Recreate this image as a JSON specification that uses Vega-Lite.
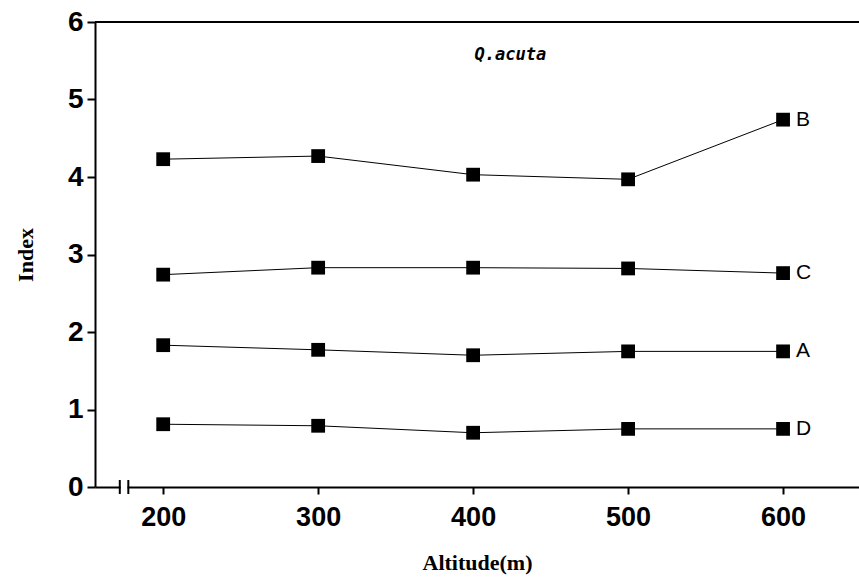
{
  "$schema": "https://vega.github.io/schema/vega-lite/v6.json",
  "width": 764,
  "height": 465,
  "autosize": "none",
  "padding": {"left": 95, "top": 22, "right": 0, "bottom": 100},
  "background": "white",
  "config": {"view": {"stroke": null}},
  "datasets": {
    "pts": [
      {"alt": 200, "index": 4.23, "s": "B"}, {"alt": 300, "index": 4.27, "s": "B"}, {"alt": 400, "index": 4.03, "s": "B"}, {"alt": 500, "index": 3.97, "s": "B"}, {"alt": 600, "index": 4.74, "s": "B"},
      {"alt": 200, "index": 2.74, "s": "C"}, {"alt": 300, "index": 2.83, "s": "C"}, {"alt": 400, "index": 2.83, "s": "C"}, {"alt": 500, "index": 2.82, "s": "C"}, {"alt": 600, "index": 2.76, "s": "C"},
      {"alt": 200, "index": 1.83, "s": "A"}, {"alt": 300, "index": 1.77, "s": "A"}, {"alt": 400, "index": 1.70, "s": "A"}, {"alt": 500, "index": 1.75, "s": "A"}, {"alt": 600, "index": 1.75, "s": "A"},
      {"alt": 200, "index": 0.81, "s": "D"}, {"alt": 300, "index": 0.79, "s": "D"}, {"alt": 400, "index": 0.70, "s": "D"}, {"alt": 500, "index": 0.75, "s": "D"}, {"alt": 600, "index": 0.75, "s": "D"}
    ],
    "labels": [
      {"alt": 600, "index": 4.74, "s": "B"},
      {"alt": 600, "index": 2.76, "s": "C"},
      {"alt": 600, "index": 1.75, "s": "A"},
      {"alt": 600, "index": 0.75, "s": "D"}
    ],
    "breaks": [
      {"bx": 172, "y1": -0.09, "y2": 0.09},
      {"bx": 177.5, "y1": -0.09, "y2": 0.09}
    ]
  },
  "layer": [
    {
      "data": {"values": [{}]},
      "mark": {"type": "rule", "color": "black", "strokeWidth": 2},
      "encoding": {"y": {"datum": 6, "scale": {"domain": [0, 6]}}}
    },
    {
      "data": {"name": "pts"},
      "mark": {"type": "line", "color": "black", "strokeWidth": 1},
      "encoding": {
        "x": {"field": "alt", "type": "quantitative", "scale": {"domain": [156, 649], "nice": false, "zero": false},
          "axis": {"values": [200, 300, 400, 500, 600], "title": "Altitude(m)", "titleFont": "Liberation Serif", "titleFontSize": 22, "titleFontWeight": "bold", "titleColor": "black", "titlePadding": 22,
            "labelFont": "Liberation Sans", "labelFontSize": 27, "labelFontWeight": "bold", "labelColor": "black", "labelPadding": 10,
            "domainColor": "black", "domainWidth": 2, "tickColor": "black", "tickWidth": 2, "tickSize": 7, "grid": false}},
        "y": {"field": "index", "type": "quantitative", "scale": {"domain": [0, 6], "nice": false},
          "axis": {"values": [0, 1, 2, 3, 4, 5, 6], "format": "d", "title": "Index", "titleFont": "Liberation Serif", "titleFontSize": 22, "titleFontWeight": "bold", "titleColor": "black", "titlePadding": 30,
            "labelFont": "Liberation Sans", "labelFontSize": 28, "labelFontWeight": "bold", "labelColor": "black", "labelPadding": 4,
            "domainColor": "black", "domainWidth": 2, "tickColor": "black", "tickWidth": 2, "tickSize": 8, "grid": false}},
        "detail": {"field": "s"}
      }
    },
    {
      "data": {"name": "pts"},
      "mark": {"type": "point", "shape": "square", "filled": true, "color": "black", "opacity": 1, "size": 190},
      "encoding": {
        "x": {"field": "alt", "type": "quantitative"},
        "y": {"field": "index", "type": "quantitative"}
      }
    },
    {
      "data": {"name": "labels"},
      "mark": {"type": "text", "align": "left", "dx": 13, "font": "Liberation Sans", "fontSize": 21, "color": "black", "baseline": "middle"},
      "encoding": {
        "x": {"field": "alt", "type": "quantitative"},
        "y": {"field": "index", "type": "quantitative"},
        "text": {"field": "s"}
      }
    },
    {
      "data": {"values": [{"t": "Q.acuta"}]},
      "mark": {"type": "text", "font": "DejaVu Sans Mono", "fontStyle": "italic", "fontWeight": "bold", "fontSize": 17, "color": "black", "baseline": "middle"},
      "encoding": {
        "x": {"datum": 424},
        "y": {"datum": 5.57},
        "text": {"field": "t"}
      }
    },
    {
      "data": {"values": [{}]},
      "mark": {"type": "rule", "color": "white", "strokeWidth": 5},
      "encoding": {"x": {"datum": 172.5}, "x2": {"datum": 177}, "y": {"datum": 0}}
    },
    {
      "data": {"name": "breaks"},
      "mark": {"type": "rule", "color": "black", "strokeWidth": 2},
      "encoding": {
        "x": {"field": "bx", "type": "quantitative"},
        "y": {"field": "y1", "type": "quantitative"},
        "y2": {"field": "y2"}
      }
    }
  ]
}
